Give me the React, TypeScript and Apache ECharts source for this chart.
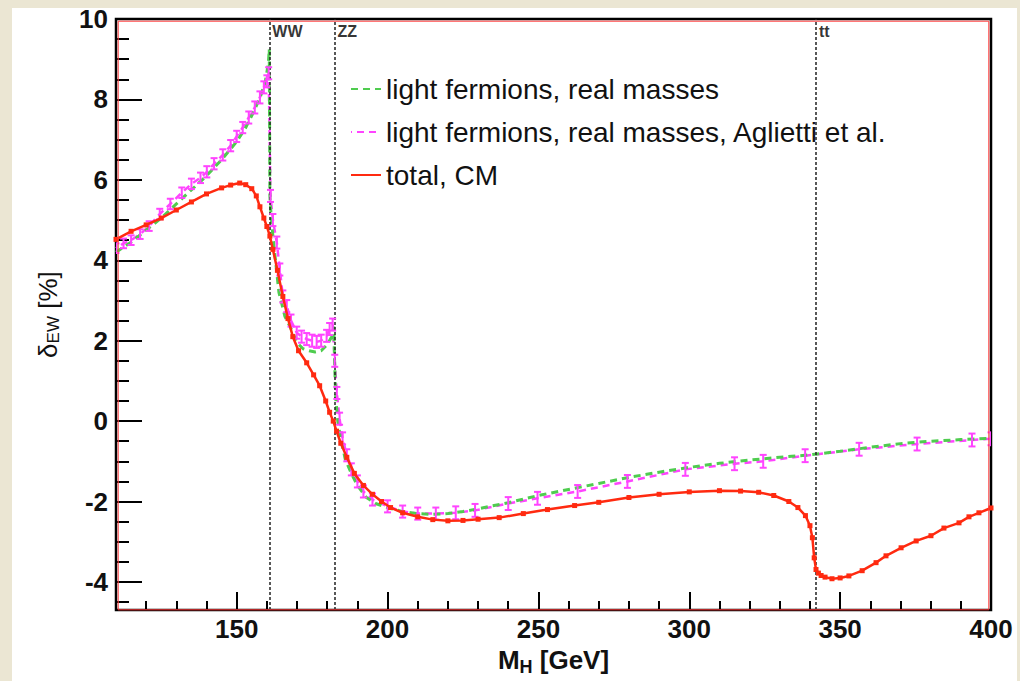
import React, { useEffect, useRef } from 'react';
import * as echarts from 'echarts';

// Light-fermion contribution with real masses
const lightMH = [110, 115, 120, 125, 130, 135, 140, 145, 150, 153, 156, 158, 159.5, 160.5, 160.8, 161.0, 161.5, 162, 163, 164, 165, 166, 168, 170, 172, 174, 176, 178, 180, 181.5, 182.2, 182.4, 182.8, 183.5, 184.5, 186, 188, 190, 193, 196, 200, 205, 210, 215, 220, 225, 230, 240, 250, 260, 270, 280, 290, 300, 310, 320, 330, 340, 350, 360, 370, 380, 390, 400];
const lightDelta = [4.2, 4.45, 4.75, 5.05, 5.4, 5.75, 6.1, 6.5, 6.95, 7.3, 7.75, 8.1, 8.45, 8.9, 9.25, 5.6, 5.0, 4.6, 3.9, 3.2, 2.9, 2.6, 2.3, 1.95, 1.8, 1.75, 1.72, 1.75, 1.9, 2.1, 2.35, 1.6, 0.6, 0.0, -0.45, -0.95, -1.3, -1.6, -1.9, -2.05, -2.15, -2.25, -2.3, -2.32, -2.3, -2.25, -2.18, -2.03, -1.85, -1.7, -1.55, -1.4, -1.27, -1.15, -1.05, -0.97, -0.9, -0.84, -0.75, -0.65, -0.56, -0.5, -0.46, -0.43];

// Aglietti et al., with uncertainties
const aglMH = [110, 112.5, 115, 118, 121, 124.5, 128, 131.8, 135, 138, 140.1, 142.5, 145.4, 148, 150, 152, 154, 156, 157.7, 159, 160, 160.6, 161.2, 162, 163.3, 164.3, 165.3, 166.6, 168, 169.9, 171.5, 173.2, 175, 176.5, 178, 179.8, 180.8, 181.8, 182.5, 183.2, 184.1, 185.1, 186.5, 188, 190, 192, 195, 200, 205, 210, 216, 222.6, 229, 240, 249.7, 263, 279.5, 298.7, 315, 324.5, 338.4, 356.3, 375.5, 393.7, 400];
const aglDelta = [4.3, 4.42, 4.5, 4.65, 4.85, 5.15, 5.4, 5.68, 5.9, 6.05, 6.2, 6.4, 6.62, 6.85, 7.08, 7.3, 7.55, 7.8, 8.05, 8.3, 8.45, 8.65, 5.6, 5.0, 4.44, 3.77, 3.1, 2.86, 2.5, 2.2, 2.1, 2.04, 2.0, 1.97, 2.0, 2.12, 2.29, 2.4, 1.5, 0.7, 0.06, -0.43, -0.85, -1.2, -1.5, -1.75, -1.95, -2.12, -2.25, -2.3, -2.3, -2.28, -2.22, -2.05, -1.92, -1.75, -1.5, -1.2, -1.06, -1.0, -0.86, -0.7, -0.57, -0.47, -0.44];
const aglErr = [0.12, 0.12, 0.12, 0.12, 0.12, 0.13, 0.13, 0.13, 0.13, 0.13, 0.14, 0.14, 0.14, 0.14, 0.14, 0.14, 0.15, 0.15, 0.15, 0.15, 0.15, 0.15, 0.15, 0.15, 0.15, 0.15, 0.15, 0.15, 0.15, 0.15, 0.15, 0.15, 0.15, 0.15, 0.15, 0.15, 0.15, 0.15, 0.15, 0.15, 0.15, 0.15, 0.15, 0.15, 0.15, 0.15, 0.15, 0.15, 0.15, 0.15, 0.15, 0.16, 0.16, 0.16, 0.16, 0.16, 0.16, 0.16, 0.16, 0.16, 0.16, 0.16, 0.16, 0.16, 0.16];

// Full electroweak correction, complex-mass scheme
const totalMH = [110, 115, 120, 125, 130, 135, 140, 145, 148, 151, 153, 155, 156.5, 157.7, 159, 160, 161, 162, 163.5, 165.3, 167, 168.6, 170.5, 173.2, 175.5, 177.5, 179.5, 180.8, 182, 183.1, 184.5, 186.5, 189, 192, 195, 198, 201, 205, 210, 215, 220, 225, 230, 237, 245, 253, 262, 270, 280, 290, 300, 310, 317, 323, 328, 333, 336, 338.5, 340, 340.8, 341.4, 342, 342.8, 343.7, 345, 347.3, 350, 352.9, 357.3, 361.9, 365.2, 370.2, 375.2, 380.1, 384.4, 389.4, 392.7, 396, 400];
const totalDelta = [4.52, 4.72, 4.88, 5.05, 5.25, 5.45, 5.65, 5.8, 5.87, 5.92, 5.88, 5.78, 5.6, 5.33, 5.05, 4.84, 4.6, 4.27, 3.75, 3.1, 2.55, 2.1, 1.75, 1.45, 1.15, 0.88, 0.5, 0.22, 0.0, -0.25, -0.55, -0.9, -1.3, -1.6, -1.82, -2.0, -2.15, -2.28, -2.38, -2.45, -2.48, -2.47, -2.44, -2.4, -2.3, -2.2, -2.1, -2.02, -1.9, -1.82, -1.76, -1.73, -1.74, -1.77, -1.85, -2.0, -2.15, -2.35, -2.6, -2.9, -3.4, -3.69, -3.78, -3.84, -3.88, -3.92, -3.9, -3.85, -3.72, -3.52, -3.35, -3.15, -2.98, -2.85, -2.66, -2.53, -2.38, -2.28, -2.16];

// Pair-production thresholds
const thresholdMH = [160.8, 182.4, 342];
const thresholdNames = ['WW', 'ZZ', 'tt'];
const thresholdLabelLevel = 9.68;

// Axis ticks
const xMajor = [150, 200, 250, 300, 350, 400];
const xMinor = [120, 130, 140, 160, 170, 180, 190, 210, 220, 230, 240, 260, 270, 280, 290, 310, 320, 330, 340, 360, 370, 380, 390];
const yMajor = [-4, -2, 0, 2, 4, 6, 8, 10];
const yMinor = [-4.5, -3.5, -3, -2.5, -1.5, -1, -0.5, 0.5, 1, 1.5, 2.5, 3, 3.5, 4.5, 5, 5.5, 6.5, 7, 7.5, 8.5, 9, 9.5];

const NAME_LIGHT = 'light fermions, real masses';
const NAME_AGL = 'light fermions, real masses, Aglietti et al.';
const NAME_TOTAL = 'total, CM';

const GREEN = '#4fcc4f';
const MAGENTA = '#ff44ff';
const RED = '#ff2a10';
const FONT = '"Liberation Sans", Arial, Helvetica, sans-serif';

const X_MIN = 110;
const X_MAX = 400;
const Y_MIN = -4.7;
const Y_MAX = 10;

const GRID = { left: 116, top: 19, width: 875, height: 593 };

export default function App() {
  const ref = useRef<HTMLDivElement | null>(null);

  useEffect(() => {
    if (!ref.current) return;
    const chart = echarts.init(ref.current, null, { renderer: 'svg' });

    const pairs = (xs: number[], ys: number[]) => xs.map((x, i) => [x, ys[i]]);

    const axisTickStyle = { color: '#000', width: 2 };
    const labelStyle = { fontFamily: FONT, fontSize: 26, fontWeight: 'bold' as const, color: '#111' };

    const option: any = {
      animation: false,
      backgroundColor: '#ebe6d3',
      graphic: [
        {
          type: 'rect',
          z: -10,
          shape: { x: 12, y: 8, width: 1005, height: 690 },
          style: { fill: '#ffffff' },
        },
        {
          type: 'rect',
          z: 50,
          silent: true,
          shape: { x: GRID.left + 2.2, y: GRID.top + 2.2, width: GRID.width - 4.4, height: GRID.height - 4.4 },
          style: { fill: 'none', stroke: '#ff3a3a', lineWidth: 1 },
        },
      ],
      grid: {
        left: GRID.left,
        top: GRID.top,
        width: GRID.width,
        height: GRID.height,
        show: true,
        borderColor: '#000',
        borderWidth: 2.5,
        backgroundColor: 'transparent',
        containLabel: false,
      },
      legend: {
        orient: 'vertical',
        left: 345,
        top: 70,
        itemWidth: 30,
        itemHeight: 12,
        itemGap: 15,
        itemStyle: { opacity: 0 },
        textStyle: { fontFamily: FONT, fontSize: 28, color: '#111', lineHeight: 26 },
        data: [NAME_LIGHT, NAME_AGL, NAME_TOTAL],
      },
      xAxis: [
        {
          type: 'value',
          min: X_MIN,
          max: X_MAX,
          axisLine: { show: false, onZero: false },
          splitLine: { show: false },
          axisTick: { show: true, inside: true, length: 9, lineStyle: axisTickStyle, customValues: xMinor },
          axisLabel: { ...labelStyle, margin: 6, customValues: xMajor },
          name: '{m|M}{s|H}{m| [GeV]}',
          nameLocation: 'middle',
          nameGap: 30,
          nameTextStyle: {
            rich: {
              m: { fontFamily: FONT, fontSize: 26, fontWeight: 'bold', color: '#111' },
              s: { fontFamily: FONT, fontSize: 18, fontWeight: 'bold', color: '#111', padding: [14, 0, 0, 0] },
            },
          },
        },
        {
          type: 'value',
          min: X_MIN,
          max: X_MAX,
          position: 'bottom',
          axisLine: { show: false, onZero: false },
          splitLine: { show: false },
          axisTick: { show: true, inside: true, length: 18, lineStyle: axisTickStyle, customValues: xMajor },
          axisLabel: { show: false },
        },
      ],
      yAxis: [
        {
          type: 'value',
          min: Y_MIN,
          max: Y_MAX,
          axisLine: { show: false, onZero: false },
          splitLine: { show: false },
          axisTick: { show: true, inside: true, length: 26, lineStyle: axisTickStyle, customValues: yMajor },
          axisLabel: { ...labelStyle, margin: 8, customValues: yMajor },
          name: '{d|δ}{s|EW}{d| [%]}',
          nameLocation: 'middle',
          nameGap: 54,
          nameTextStyle: {
            rich: {
              d: { fontFamily: FONT, fontSize: 26, color: '#111' },
              s: { fontFamily: FONT, fontSize: 17, color: '#111', padding: [12, 0, 0, 0] },
            },
          },
        },
        {
          type: 'value',
          min: Y_MIN,
          max: Y_MAX,
          position: 'left',
          axisLine: { show: false, onZero: false },
          splitLine: { show: false },
          axisTick: { show: true, inside: true, length: 13, lineStyle: axisTickStyle, customValues: yMinor },
          axisLabel: { show: false },
        },
      ],
      series: [
        {
          name: 'thresholds',
          type: 'scatter',
          z: 1,
          symbolSize: 0,
          silent: true,
          data: thresholdMH.map((v, i) => ({ value: [v, thresholdLabelLevel], name: thresholdNames[i] })),
          label: {
            show: true,
            position: 'right',
            distance: 3,
            formatter: '{b}',
            fontFamily: FONT,
            fontSize: 16,
            fontWeight: 'bold',
            color: '#000',
          },
          markLine: {
            silent: true,
            symbol: ['none', 'none'],
            label: { show: false },
            lineStyle: { color: '#222', type: [3, 2], width: 1.5 },
            data: thresholdMH.map((v) => ({ xAxis: v })),
          },
        },
        {
          name: NAME_AGL,
          type: 'line',
          z: 3,
          symbol: 'none',
          data: pairs(aglMH, aglDelta),
          lineStyle: { color: MAGENTA, width: 2.5, type: [7, 5], dashOffset: 6 },
          itemStyle: { color: MAGENTA },
        },
        {
          name: NAME_LIGHT,
          type: 'line',
          z: 4,
          symbol: 'none',
          data: pairs(lightMH, lightDelta),
          lineStyle: { color: GREEN, width: 3, type: [7, 5] },
          itemStyle: { color: GREEN },
        },
        {
          name: 'aglietti-errors',
          type: 'custom',
          z: 5,
          clip: true,
          data: aglMH.map((x, i) => [x, aglDelta[i], aglErr[i]]),
          encode: { x: 0, y: 1 },
          renderItem: (_params: any, api: any) => {
            const x = api.value(0);
            const y = api.value(1);
            const e = api.value(2);
            const hi = api.coord([x, y + e]);
            const lo = api.coord([x, y - e]);
            const cap = 3.5;
            const style = { stroke: MAGENTA, lineWidth: 2 };
            return {
              type: 'group',
              children: [
                { type: 'line', shape: { x1: hi[0], y1: hi[1], x2: lo[0], y2: lo[1] }, style },
                { type: 'line', shape: { x1: hi[0] - cap, y1: hi[1], x2: hi[0] + cap, y2: hi[1] }, style },
                { type: 'line', shape: { x1: lo[0] - cap, y1: lo[1], x2: lo[0] + cap, y2: lo[1] }, style },
              ],
            };
          },
        },
        {
          name: NAME_TOTAL,
          type: 'line',
          z: 6,
          symbol: 'rect',
          symbolSize: 5,
          showSymbol: true,
          data: pairs(totalMH, totalDelta),
          lineStyle: { color: RED, width: 2.5 },
          itemStyle: { color: RED },
        },
      ],
    };

    chart.setOption(option);
    return () => chart.dispose();
  }, []);

  return (
    <div
      ref={ref}
      style={{ position: 'absolute', left: 0, top: 0, width: 1020, height: 681 }}
    />
  );
}
